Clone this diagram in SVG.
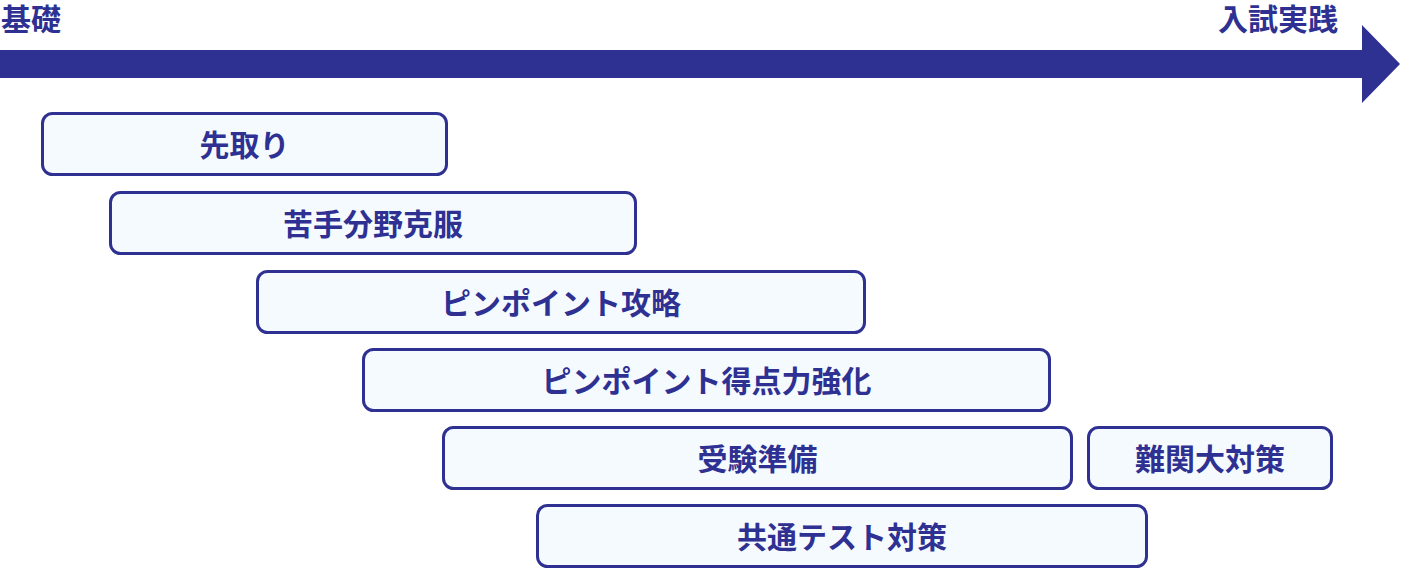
<svg xmlns="http://www.w3.org/2000/svg" width="1401" height="569" viewBox="0 0 1401 569">
<style>
.box{fill:#f5faff;stroke:#2e3192;stroke-width:3}
.lbl{font-family:"Noto Sans CJK JP","Noto Sans CJK SC",sans-serif;font-weight:bold;font-size:30px;fill:#2e3192;text-anchor:middle}
.ttl{font-family:"Noto Sans CJK JP","Noto Sans CJK SC",sans-serif;font-weight:bold;font-size:30px;fill:#2e3192}
</style>
<rect width="1401" height="569" fill="#ffffff"/>
<g id="axis">
<polygon points="0,50 1362,50 1362,25 1400,64 1362,103 1362,78 0,78" fill="#2e3192"/>
<text class="ttl" x="1" y="30">基礎</text>
<text class="ttl" x="1338" y="30" text-anchor="end">入試実践</text>
</g>
<g id="connectors"></g>
<g id="n1"><rect class="box" x="42.5" y="113.5" width="404" height="61" rx="10"/><text class="lbl" x="244.5" y="155.5">先取り</text></g>
<g id="n2"><rect class="box" x="110.5" y="192.5" width="525" height="61" rx="10"/><text class="lbl" x="373" y="234.5">苦手分野克服</text></g>
<g id="n3"><rect class="box" x="257.5" y="271.5" width="607" height="61" rx="10"/><text class="lbl" x="561" y="313.5">ピンポイント攻略</text></g>
<g id="n4"><rect class="box" x="363.5" y="349.5" width="686" height="61" rx="10"/><text class="lbl" x="706.5" y="391.5">ピンポイント得点力強化</text></g>
<g id="n5"><rect class="box" x="443.5" y="427.5" width="628" height="61" rx="10"/><text class="lbl" x="757.5" y="469.5">受験準備</text></g>
<g id="n6"><rect class="box" x="1088.5" y="427.5" width="243" height="61" rx="10"/><text class="lbl" x="1210" y="469.5">難関大対策</text></g>
<g id="n7"><rect class="box" x="537.5" y="505.5" width="609" height="61" rx="10"/><text class="lbl" x="842" y="547.5">共通テスト対策</text></g>
</svg>
